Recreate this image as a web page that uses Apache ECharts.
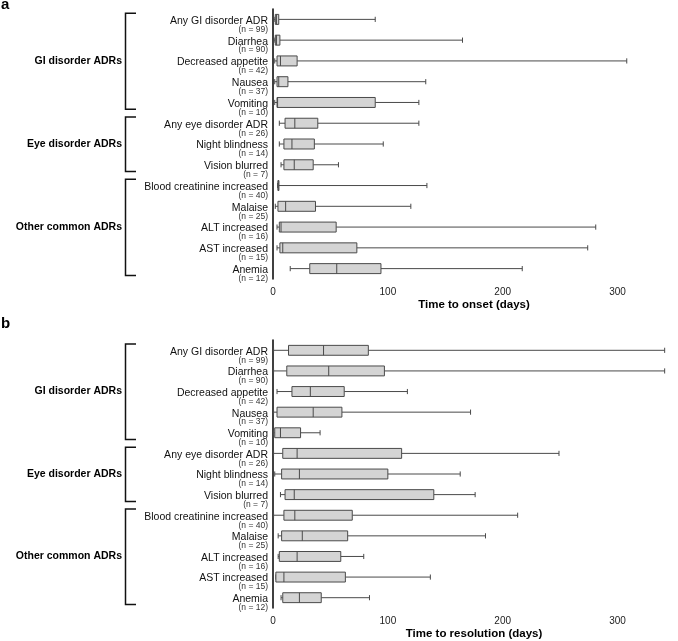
<!DOCTYPE html>
<html>
<head>
<meta charset="utf-8">
<script src="https://cdn.jsdelivr.net/npm/echarts@6/dist/echarts.min.js"></script>
<style>
  html, body { margin: 0; padding: 0; background: #fff; }
  #main { width: 678px; height: 641px; }
</style>
</head>
<body>
<div id="main"></div>
<script>
// ADR categories (top to bottom) and patient counts
var categories = [
    'Any GI disorder ADR', 'Diarrhea', 'Decreased appetite', 'Nausea', 'Vomiting',
    'Any eye disorder ADR', 'Night blindness', 'Vision blurred',
    'Blood creatinine increased', 'Malaise', 'ALT increased', 'AST increased', 'Anemia'
];
var counts = [99, 90, 42, 37, 10, 26, 14, 7, 40, 25, 16, 15, 12];

// groups shown with brackets: name, first index, last index
var groupNames = ['GI disorder ADRs', 'Eye disorder ADRs', 'Other common ADRs'];
var groupFirst = [0, 5, 8];
var groupLast = [4, 7, 12];

// [min, Q1, median, Q3, max] in days
var onsetStats = [
    [1, 2, 3, 5, 89],
    [1, 2, 3, 6, 165],
    [1.5, 3.5, 6.5, 21, 308],
    [1.5, 3.5, 5, 13, 133],
    [1.5, 3.5, 4, 89, 127],
    [5.5, 10.5, 19, 39, 127],
    [5.5, 9.5, 16.5, 36, 96],
    [7, 9.5, 18.5, 35, 57],
    [4, 4.3, 4.6, 5, 134],
    [2, 4.3, 11, 37, 120],
    [3.5, 5.5, 7, 55, 281],
    [3.5, 6, 8.5, 73, 274],
    [15, 32, 55.5, 94, 217]
];
var resolutionStats = [
    [0.5, 13.5, 44, 83, 341],
    [0.5, 12, 48.5, 97, 341],
    [3.5, 16.5, 32.5, 62, 117],
    [0.5, 3.5, 35, 60, 172],
    [0.5, 1.5, 6.5, 24, 41],
    [0.5, 8.5, 21, 112, 249],
    [1.5, 7.5, 23, 100, 163],
    [6.5, 10.5, 18.5, 140, 176],
    [0.5, 9.5, 19, 69, 213],
    [4.5, 7.5, 25.5, 65, 185],
    [4.5, 5.5, 21, 59, 79],
    [2.5, 2.5, 9.5, 63, 137],
    [7, 8.5, 23, 42, 84]
];

var axisMax = 350;
var tickStep = 50;
var labelStep = 100;

var chart = echarts.init(document.getElementById('main'));

function toSeriesData(stats) {
    return stats.map(function(s, i) {
        return [i, s[0], s[1], s[2], s[3], s[4]];
    });
}

// horizontal box with short whisker caps
function renderBox(params, api) {
    var cat = api.value(0);
    var lo = api.coord([api.value(1), cat]);
    var q1 = api.coord([api.value(2), cat]);
    var md = api.coord([api.value(3), cat]);
    var q3 = api.coord([api.value(4), cat]);
    var hi = api.coord([api.value(5), cat]);
    var band = api.size([0, 1])[1];
    var bh = band * 0.48;
    var ch = band * 0.25;
    var y = lo[1];
    var ls = { stroke: '#4a4a4a', lineWidth: 1 };
    return {
        type: 'group',
        children: [
            { type: 'line', shape: { x1: lo[0], y1: y, x2: q1[0], y2: y }, style: ls },
            { type: 'line', shape: { x1: q3[0], y1: y, x2: hi[0], y2: y }, style: ls },
            { type: 'line', shape: { x1: lo[0], y1: y - ch / 2, x2: lo[0], y2: y + ch / 2 }, style: ls },
            { type: 'line', shape: { x1: hi[0], y1: y - ch / 2, x2: hi[0], y2: y + ch / 2 }, style: ls },
            {
                type: 'rect',
                shape: { x: q1[0], y: y - bh / 2, width: Math.max(q3[0] - q1[0], 1), height: bh },
                style: { fill: '#d4d4d4', stroke: '#4a4a4a', lineWidth: 1 }
            },
            { type: 'line', shape: { x1: md[0], y1: y - bh / 2, x2: md[0], y2: y + bh / 2 }, style: ls }
        ]
    };
}

function yAxisFor(gridIndex) {
    return {
        type: 'category',
        gridIndex: gridIndex,
        data: categories,
        inverse: true,
        axisLine: { lineStyle: { color: '#000', width: 1.5 } },
        axisTick: { show: false },
        axisLabel: {
            interval: 0,
            margin: 5,
            align: 'right',
            formatter: function(v, i) {
                return '{t| }\n{a|' + v + '}\n{b|(n = ' + counts[i] + ')}';
            },
            rich: {
                t: { fontSize: 6, lineHeight: 10, align: 'right' },
                a: { fontSize: 10.5, lineHeight: 10, color: '#111', align: 'right',
                     fontFamily: 'Liberation Sans, Arial, sans-serif' },
                b: { fontSize: 8.5, lineHeight: 7, color: '#333', align: 'right',
                     fontFamily: 'Liberation Sans, Arial, sans-serif' }
            }
        }
    };
}

function xAxisFor(gridIndex, title) {
    return {
        type: 'value',
        gridIndex: gridIndex,
        min: 0,
        max: axisMax,
        interval: tickStep,
        name: title,
        nameLocation: 'middle',
        nameGap: 20,
        nameTextStyle: {
            fontSize: 11.5, fontWeight: 'bold', color: '#000',
            fontFamily: 'Liberation Sans, Arial, sans-serif'
        },
        axisLine: { lineStyle: { color: '#000', width: 1.5 } },
        axisTick: { length: 3, lineStyle: { color: '#000', width: 1 } },
        splitLine: { show: false },
        axisLabel: {
            fontSize: 10, color: '#222', margin: 8,
            fontFamily: 'Liberation Sans, Arial, sans-serif',
            formatter: function(v) { return v % labelStep === 0 ? String(v) : ''; }
        }
    };
}

var option = {
    animation: false,
    grid: [
        { left: 273, right: 1, top: 9, height: 270 },
        { left: 273, right: 1, top: 340, height: 269 }
    ],
    xAxis: [
        xAxisFor(0, 'Time to onset (days)'),
        xAxisFor(1, 'Time to resolution (days)')
    ],
    yAxis: [yAxisFor(0), yAxisFor(1)],
    series: [
        {
            type: 'custom', xAxisIndex: 0, yAxisIndex: 0,
            renderItem: renderBox,
            encode: { x: [1, 2, 3, 4, 5], y: 0 },
            data: toSeriesData(onsetStats)
        },
        {
            type: 'custom', xAxisIndex: 1, yAxisIndex: 1,
            renderItem: renderBox,
            encode: { x: [1, 2, 3, 4, 5], y: 0 },
            data: toSeriesData(resolutionStats)
        }
    ]
};

chart.setOption(option);

// group brackets and labels, placed from the category positions
function bracketGraphics(yAxisIndex) {
    var y0 = chart.convertToPixel({ yAxisIndex: yAxisIndex }, categories[0]);
    var y1 = chart.convertToPixel({ yAxisIndex: yAxisIndex }, categories[1]);
    var step = y1 - y0;
    var out = [];
    groupNames.forEach(function(name, g) {
        var top = y0 + (groupFirst[g] - 0.3) * step;
        var bottom = y0 + (groupLast[g] + 0.33) * step;
        var mid = y0 + ((groupFirst[g] + groupLast[g]) / 2) * step;
        out.push({
            type: 'polyline',
            shape: { points: [[136, top], [125.5, top], [125.5, bottom], [136, bottom]] },
            style: { stroke: '#111', lineWidth: 1.5, fill: null }
        });
        out.push({
            type: 'text',
            x: 122, y: mid,
            style: {
                text: name, align: 'right', verticalAlign: 'middle',
                font: 'bold 10.5px "Liberation Sans", Arial, sans-serif', fill: '#000'
            }
        });
    });
    return out;
}

var graphics = bracketGraphics(0).concat(bracketGraphics(1));
graphics.push({
    type: 'text', x: 1, y: 5,
    style: { text: 'a', verticalAlign: 'middle', font: 'bold 15px "Liberation Sans", Arial, sans-serif', fill: '#000' }
});
graphics.push({
    type: 'text', x: 1, y: 324,
    style: { text: 'b', verticalAlign: 'middle', font: 'bold 15px "Liberation Sans", Arial, sans-serif', fill: '#000' }
});

chart.setOption({ graphic: graphics });

window.addEventListener('resize', function() {
    chart.resize();
});
</script>
</body>
</html>
